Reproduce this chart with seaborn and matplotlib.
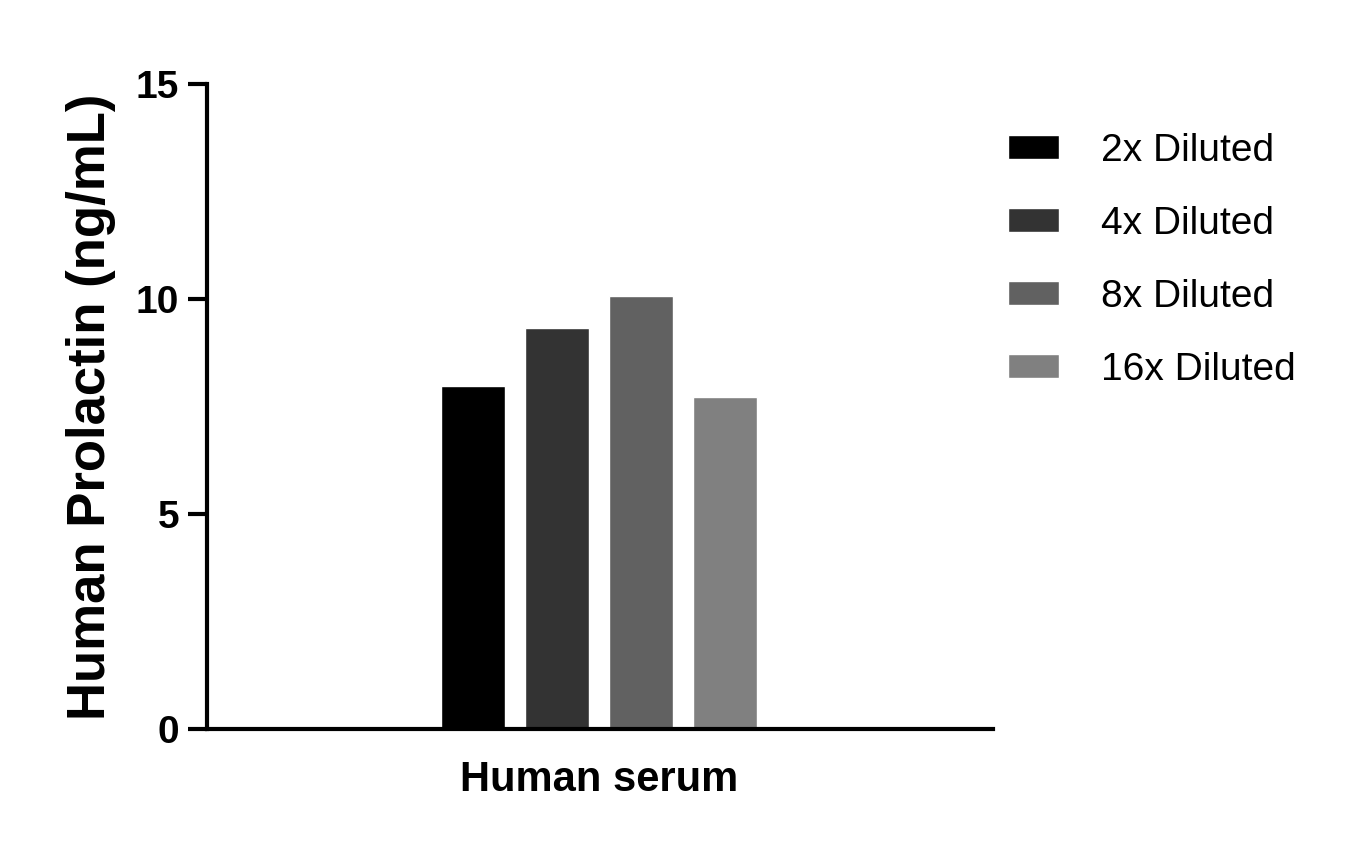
import matplotlib
matplotlib.use("Agg")
import matplotlib.pyplot as plt
import seaborn as sns
import pandas as pd

categories = ["Human serum"]
dilutions = ["2x Diluted", "4x Diluted", "8x Diluted", "16x Diluted"]
values = [7.98, 9.33, 10.07, 7.72]
colors = ["#000000", "#333333", "#616161", "#808080"]

df = pd.DataFrame({"sample": categories * 4, "dilution": dilutions, "value": values})

sns.set_style("ticks")
plt.rcParams["font.family"] = ["Liberation Sans", "DejaVu Sans"]
plt.rcParams["text.color"] = "black"
plt.rcParams["axes.labelcolor"] = "black"
plt.rcParams["xtick.color"] = "black"
plt.rcParams["ytick.color"] = "black"
plt.rcParams["axes.edgecolor"] = "black"

fig = plt.figure(figsize=(13.61, 8.5), dpi=100)
ax = fig.add_axes([0.152, 0.1424, 0.5776, 0.7586])
sns.barplot(data=df, x="sample", y="value", hue="dilution", hue_order=dilutions,
            palette=colors, width=0.8, gap=0.24, saturation=1, ax=ax, legend=True)
ax.set_xlim(-0.933, 0.938)
ax.set_ylim(0, 15)
ax.set_yticks([0, 5, 10, 15])
ax.set_xlabel("")
ax.set_ylabel("Human Prolactin (ng/mL)", fontsize=38, fontweight="bold", labelpad=14)
for s in ["top", "right"]:
    ax.spines[s].set_visible(False)
for s in ["left", "bottom"]:
    ax.spines[s].set_linewidth(3)
ax.tick_params(axis="y", width=3, length=14, labelsize=28, pad=6)
ax.tick_params(axis="x", length=0, labelsize=30, pad=22)
for t in ax.get_yticklabels() + ax.get_xticklabels():
    t.set_fontweight("bold")
h, l = ax.get_legend_handles_labels()
ax.get_legend().remove()
fig.legend(h, l, loc="upper left", bbox_to_anchor=(0.715, 0.885), frameon=False,
           fontsize=28, handlelength=1.3, handleheight=0.55, handletextpad=1.1,
           labelspacing=0.95)
fig.savefig("out.png", dpi=100)
